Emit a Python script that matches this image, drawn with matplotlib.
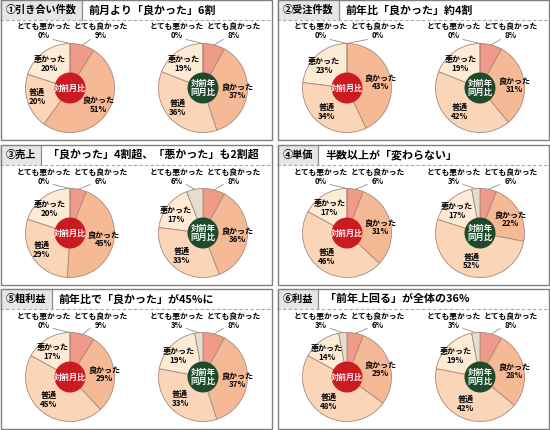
import matplotlib
matplotlib.use('Agg')
import matplotlib.pyplot as plt
from matplotlib.patches import Rectangle, Circle
import numpy as np

plt.rcParams['font.family'] = ['Noto Sans CJK JP', 'DejaVu Sans']

categories = ['とても良かった', '良かった', '普通', '悪かった', 'とても悪かった']
items = ['①引き合い件数', '②受注件数', '③売上', '④単価', '⑤粗利益', '⑥利益']
headlines = ['前月より「良かった」6割',
             '前年比「良かった」約4割',
             '「良かった」4割超、「悪かった」も2割超',
             '半数以上が「変わらない」',
             '前年比で「良かった」が45%に',
             '「前年上回る」が全体の36%']
# order follows categories
vs_prev_month = [
    [9, 51, 20, 20, 0],
    [0, 43, 34, 23, 0],
    [6, 45, 29, 20, 0],
    [6, 31, 46, 17, 0],
    [9, 29, 45, 17, 0],
    [6, 29, 48, 14, 3],
]
vs_prev_year = [
    [8, 37, 36, 19, 0],
    [8, 31, 42, 19, 0],
    [8, 36, 33, 17, 6],
    [6, 22, 52, 17, 3],
    [8, 37, 33, 19, 3],
    [8, 28, 42, 19, 3],
]
center_labels = ['対前月比', '対前年\n同月比']

slice_colors = ['#F09A8A', '#F6B996', '#FAD5B8', '#FDEBD6', '#E5DECF']
center_colors = ['#CC1A22', '#1F4A2C']

W, H = 550, 430
fig = plt.figure(figsize=(5.5, 4.3), dpi=100)
ax = fig.add_axes([0, 0, 1, 1])
renderer = fig.canvas.get_renderer()


def Y(y):
    return H - y


def draw_pie(vals, cx, cy, r, k):
    wedges, _ = ax.pie(vals, colors=slice_colors, startangle=90, counterclock=False,
                       center=(cx, Y(cy)), radius=r, frame=True,
                       wedgeprops=dict(edgecolor='#A88878', linewidth=0.6))
    top = Y(cy) + r
    for i, w in enumerate(wedges):
        a = np.radians((w.theta1 + w.theta2) / 2)
        txt = f'{categories[i]}\n{vals[i]}%'
        if i in (1, 2, 3):
            ax.text(cx + 0.78 * r * np.cos(a), Y(cy) + 0.66 * r * np.sin(a), txt,
                    ha='center', va='center', fontsize=5.8, fontweight='bold',
                    linespacing=1.0, zorder=6)
        else:
            dx = 31 if i == 0 else -26
            ax.text(cx + dx, top + 12, txt, ha='center', va='center',
                    fontsize=5.6, fontweight='bold', linespacing=1.0, zorder=6)
            ex, ey = cx + r * np.cos(a), Y(cy) + r * np.sin(a)
            ax.plot([ex, cx + dx * 0.65], [ey, top + 4], color='#909090', lw=0.6, zorder=6)
    ax.add_patch(Circle((cx, Y(cy)), 15.5, fc=center_colors[k], ec='none', zorder=5))
    ax.text(cx, Y(cy), center_labels[k], ha='center', va='center', color='white',
            fontsize=5.8 if k == 0 else 6.0, fontweight='bold', linespacing=0.95, zorder=7)


pw, ph = 271, 140
for k in range(6):
    px = 0 if k % 2 == 0 else 277
    py = [0, 145, 289][k // 2]

    # header label box
    lab = ax.text(px + 6, Y(py + 10), items[k], ha='left', va='center',
                  fontsize=7.3, fontweight='bold', zorder=4)
    bb = lab.get_window_extent(renderer=renderer)
    bw = 6 + bb.width + 5
    ax.add_patch(Rectangle((px, Y(py + 20)), bw, 20, fc='#E6E6E6', ec='none', zorder=2))
    ax.plot([px + bw, px + bw], [Y(py), Y(py + 20)], color='#8C8C8C', lw=0.9, zorder=3)
    ax.text(px + bw + 7, Y(py + 10), headlines[k], ha='left', va='center',
            fontsize=7.9, fontweight='bold', zorder=4)
    ax.plot([px, px + pw], [Y(py + 20), Y(py + 20)], color='#A8A8A8', lw=0.8,
            ls=(0, (3, 2)), zorder=3)
    ax.add_patch(Rectangle((px + 0.5, Y(py + ph)), pw, ph, fill=False,
                           ec='#808080', lw=1.0, zorder=8))

    draw_pie(vs_prev_month[k], px + 70, py + 88, 44.5, 0)
    draw_pie(vs_prev_year[k], px + 203, py + 88, 44.5, 1)

ax.set_xlim(0, W)
ax.set_ylim(0, H)
ax.axis('off')
fig.savefig('out.png', dpi=100, facecolor='white')
